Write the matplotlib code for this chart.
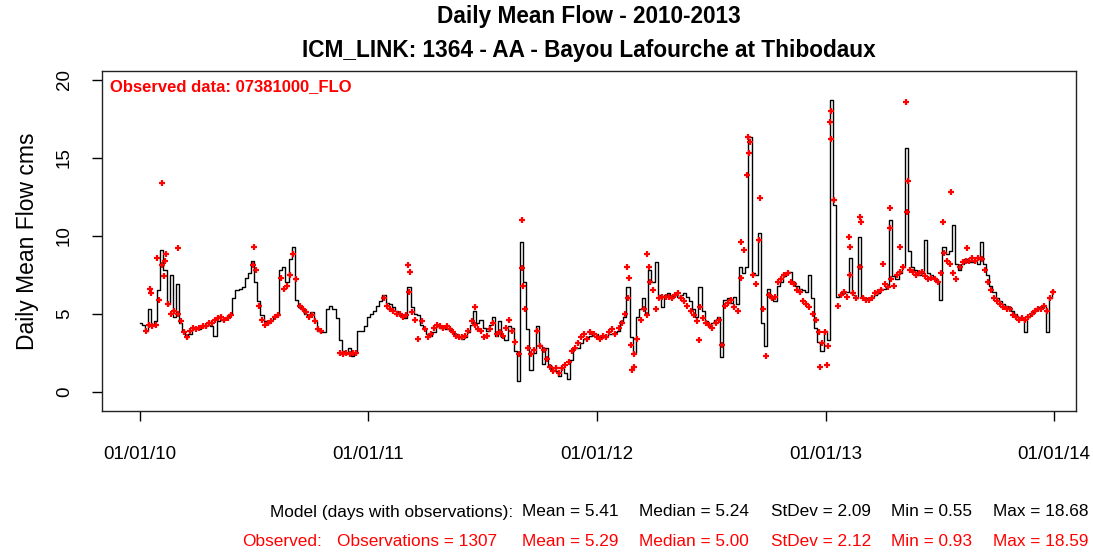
import numpy as np
import matplotlib
matplotlib.use("Agg")
import matplotlib.pyplot as plt

plt.rcParams['font.family'] = ['Liberation Sans', 'DejaVu Sans']
nan = float('nan')

# ---- data: values every 5 days, day 0 = 2010-01-01 ----
year_start_days = [0, 365, 730, 1095]
step_days = 5

model_2010 = [4.4, 4.3, 3.9, 5.3, 4.3, 4.5, 6.5, 9.1, 7.8, 5.6, 7.5, 4.8, 6.9, 4.4, 3.9, 3.5,
              3.7, 4.0, 4.1, 4.0, 4.2, 4.2, 4.3, 4.2, 3.6, 4.5, 4.6, 4.7, 4.8, 5.0, 6.0, 6.5,
              6.6, 6.7, 7.3, 7.6, 8.4, 7.0, 5.8, 4.9, 4.5, 4.4, 4.6, 4.8, 4.9, 7.8, 8.0, 7.0,
              8.5, 9.3, 5.9, 5.4, 5.3, 5.0, 4.9, 5.1, 4.5, 3.9, 3.8, 3.8, 5.3, 5.5, 5.3, 4.7,
              3.3, 2.6, 2.5, 2.8, 2.3, 2.5, 3.9, 3.9, 4.2]
model_2011 = [4.8, 5.0, 5.2, 5.5, 5.8, 6.2, 5.7, 5.6, 5.4, 5.2, 5.0, 4.8, 4.7, 6.7, 5.4, 5.0,
              4.9, 4.3, 4.0, 3.7, 3.6, 3.8, 4.2, 4.1, 4.1, 4.0, 4.1, 3.8, 3.7, 3.5, 3.4, 3.5,
              3.8, 4.3, 5.2, 4.4, 4.6, 4.1, 3.9, 4.3, 4.8, 3.6, 4.5, 3.5, 3.3, 4.2, 4.1, 2.6,
              0.7, 9.6, 7.0, 4.0, 1.4, 2.5, 4.2, 3.0, 1.8, 2.8, 1.7, 1.4, 1.3, 1.0, 1.5, 1.2,
              0.8, 2.0, 2.8, 2.8, 3.1, 3.4, 3.5, 3.6, 3.7]
model_2012 = [3.7, 3.6, 3.5, 3.6, 3.7, 3.7, 3.8, 3.9, 4.5, 4.8, 6.7, 3.5, 2.5, 4.8, 5.3, 6.0,
              5.0, 7.8, 7.0, 8.3, 6.2, 5.4, 6.2, 6.3, 6.0, 6.2, 6.1, 6.2, 6.3, 6.1, 5.8, 5.3,
              4.8, 6.7, 5.2, 4.5, 4.2, 4.4, 4.6, 4.8, 2.2, 5.9, 6.0, 5.7, 6.1, 5.6, 8.0, 7.6,
              8.0, 16.3, 7.6, 7.5, 10.2, 4.4, 2.9, 6.6, 6.0, 5.8, 6.8, 7.0, 7.4, 7.6, 7.7, 7.0,
              6.8, 6.6, 6.5, 6.4, 7.5, 6.0, 4.1, 3.2, 2.6]
model_2013 = [3.9, 3.3, 18.7, 12.0, 6.1, 6.2, 6.3, 6.4, 8.6, 6.2, 6.0, 9.9, 6.1, 6.0, 6.0, 6.1,
              6.2, 6.3, 6.6, 6.6, 6.8, 11.0, 7.4, 7.2, 7.6, 8.0, 15.6, 9.0, 8.0, 7.8, 7.5, 7.6,
              9.7, 7.6, 7.5, 7.3, 7.1, 5.9, 9.3, 8.8, 9.0, 10.7, 8.2, 7.8, 8.2, 8.5, 8.3, 8.3,
              8.4, 8.2, 9.6, 8.2, 7.5, 6.8, 6.4, 6.0, 5.8, 5.6, 5.5, 5.4, 5.2, 5.0, 4.8, 4.7,
              3.8, 4.8, 5.0, 5.2, 5.3, 5.4, 5.5, 3.8, 6.0, 6.5]

obs_2010 = [nan, nan, 3.9, 4.3, 4.2, 4.3, 5.9, 8.1, 8.4, 5.6, 5.0, 5.2, 5.0, 4.5, 3.8, 3.5,
            3.9, 4.1, 4.0, 4.1, 4.2, 4.2, 4.4, 4.4, 4.6, 4.7, 4.8, 4.6, 4.7, 4.9, nan, nan,
            nan, nan, nan, nan, 8.1, 7.8, 5.5, 4.6, 4.3, 4.4, 4.5, 4.8, 4.9, 7.3, 6.6, 6.8,
            7.5, 8.8, 7.2, 5.5, 5.3, 5.1, 4.8, 4.9, 4.5, 4.0, 3.9, nan, nan, nan, nan, nan,
            2.5, 2.4, 2.5, 2.4, 2.5, 2.5, nan, nan, nan]
obs_2011 = [nan, nan, nan, nan, nan, 6.0, 5.5, 5.3, 5.2, 5.0, 5.0, 4.8, 4.9, 6.4, 5.1, 4.6,
            3.4, 4.5, 4.0, 3.5, 3.7, 4.1, 4.3, 4.2, 4.1, 4.2, 4.0, 3.8, 3.6, 3.5, 3.5, 3.6,
            3.9, 4.5, 4.3, 4.0, 3.9, 3.5, 3.6, 4.0, 4.4, 3.7, 3.8, 3.6, 4.1, 4.6, 3.9, 3.2,
            2.4, 7.9, 5.3, 2.8, 2.4, 2.7, 3.9, 2.9, 2.7, 2.1, 1.6, 1.3, 1.5, 1.2, 1.5, 1.7,
            1.9, 2.6, 2.8, 3.1, 3.5, 3.7, 3.4, 3.8, 3.7]
obs_2012 = [3.5, 3.4, 3.6, 3.5, 3.8, 4.0, 3.7, 4.1, 4.4, 5.0, 6.0, 3.0, 2.4, 3.4, 4.6, 5.3,
            4.9, 7.0, 6.5, 5.3, 6.0, 6.1, 6.1, 6.1, 6.0, 6.2, 6.3, 6.0, 5.8, 5.5, 5.2, 4.9,
            4.5, 5.4, 4.7, 4.4, 4.3, 4.1, 4.4, 4.6, 3.0, 5.5, 5.7, 5.9, 5.4, 5.2, 7.3, 9.1,
            13.9, 16.0, 7.5, 6.9, 9.7, 5.3, 2.3, 6.2, 6.0, 6.1, 7.0, 7.2, 7.5, 7.6, 7.0, 6.9,
            6.5, 6.4, 5.8, 5.6, 5.4, 5.0, 4.6, 3.8, 3.1]
obs_2013 = [3.8, 2.9, 18.0, 12.3, 5.5, 6.2, 6.4, 6.1, 7.5, 6.3, 6.0, 8.0, 6.0, 5.9, 5.9, 6.0,
            6.3, 6.4, 6.5, 6.9, 6.7, 7.2, 6.8, 7.5, 7.7, 8.0, 18.6, 7.8, 7.7, 7.5, 7.6, 7.7,
            7.4, 7.2, 7.3, 7.2, 7.0, 7.6, 8.9, 8.4, 8.2, 7.6, 7.2, 8.0, 8.3, 8.4, 8.4, 8.6,
            8.4, 8.6, 8.5, 7.8, 7.0, 6.5, 6.0, 5.8, 5.6, 5.4, 5.3, 5.3, 4.9, 4.8, 4.6, 4.7,
            4.6, 4.8, 5.0, 5.2, 5.3, 5.3, 5.5, 5.2, 6.0, 6.4]

# individual observed points that stand off the 5-day series
obs_extra_days = [16, 17, 28, 35, 38, 42, 60, 182, 428, 432, 536, 610, 612, 779, 781, 786,
                  790, 811, 813, 894, 961, 972, 974, 991, 1087, 1098, 1103, 1104, 1133, 1134,
                  1151, 1152, 1188, 1198, 1199, 1214, 1226, 1228, 1283, 1297, 1322]
obs_extra_vals = [6.6, 6.3, 8.6, 13.4, 7.4, 8.8, 9.2, 9.3, 8.1, 7.7, 5.4, 11.0, 6.8, 8.0, 7.3, 1.4,
                  1.6, 8.8, 8.0, 3.3, 9.6, 16.3, 15.3, 12.4, 1.6, 1.7, 17.3, 16.2, 9.9, 9.3,
                  11.2, 10.9, 8.2, 11.8, 10.5, 9.3, 11.5, 13.5, 10.9, 12.8, 9.2]

tick_days = [0, 365, 730, 1096, 1461]
tick_labels = ['01/01/10', '01/01/11', '01/01/12', '01/01/13', '01/01/14']
y_ticks = [0, 5, 10, 15, 20]

model_stats = ['Mean = 5.41', 'Median = 5.24', 'StDev = 2.09', 'Min = 0.55', 'Max = 18.68']
obs_stats = ['Mean = 5.29', 'Median = 5.00', 'StDev = 2.12', 'Min = 0.93', 'Max = 18.59']

# ---- build series ----
def series(chunks):
    d, v = [], []
    for start, vals in zip(year_start_days, chunks):
        d.extend(start + step_days * np.arange(len(vals)))
        v.extend(vals)
    return np.array(d, float), np.array(v, float)

md, mv = series([model_2010, model_2011, model_2012, model_2013])
od, ov = series([obs_2010, obs_2011, obs_2012, obs_2013])

W, H = 1093, 552
fig = plt.figure(figsize=(W / 100, H / 100), dpi=100)
ax = fig.add_axes([102 / W, 1 - 411 / H, (1076 - 102) / W, (411 - 71) / H])

ax.plot(md, mv, color='black', lw=1.0, drawstyle='steps-mid', zorder=2)
ax.plot(od, ov, ls='none', marker='+', color='#ff0000', ms=4.8, mew=1.6, zorder=3)
ax.plot(obs_extra_days, obs_extra_vals, ls='none', marker='+', color='#ff0000', ms=4.8, mew=1.6, zorder=3)

ax.set_xlim(-60.7, 1496)
ax.set_ylim(-1.24, 20.56)
ax.set_xticks(tick_days)
ax.set_xticklabels(tick_labels, fontsize=13.5)
ax.set_yticks(y_ticks)
ax.set_yticklabels([str(t) for t in y_ticks], fontsize=13.5, rotation=90, va='center')
ax.tick_params(axis='x', length=7, width=1, pad=18)
ax.tick_params(axis='y', length=7, width=1, pad=14)
for s in ax.spines.values():
    s.set_linewidth(1.0)
    s.set_color('#222222')
ax.set_ylabel('Daily Mean Flow cms', fontsize=16.5, labelpad=12)

ax.text(0.008, 0.955, 'Observed data: 07381000_FLO', transform=ax.transAxes, color='#ff0000',
        fontsize=12, fontweight='bold', ha='left', va='center')

fig.text(589 / W, 1 - 17 / H, 'Daily Mean Flow - 2010-2013', ha='center', va='center',
         fontsize=16.3, fontweight='bold')
fig.text(589 / W, 1 - 50 / H, 'ICM_LINK: 1364 - AA - Bayou Lafourche at Thibodaux', ha='center',
         va='center', fontsize=16.3, fontweight='bold')

col_x = [522, 639, 771, 891, 993]
y1, y2 = 1 - 512 / H, 1 - 541 / H
fs = 12.4
fig.text(513 / W, y1, 'Model (days with observations):', ha='right', va='center', fontsize=fs)
fig.text(242 / W, y2, 'Observed:', ha='left', va='center', fontsize=fs, color='#ff0000')
fig.text(337 / W, y2, 'Observations = 1307', ha='left', va='center', fontsize=fs, color='#ff0000')
for x, a, b in zip(col_x, model_stats, obs_stats):
    fig.text(x / W, y1, a, ha='left', va='center', fontsize=fs)
    fig.text(x / W, y2, b, ha='left', va='center', fontsize=fs, color='#ff0000')

fig.savefig('out.png', dpi=100)
